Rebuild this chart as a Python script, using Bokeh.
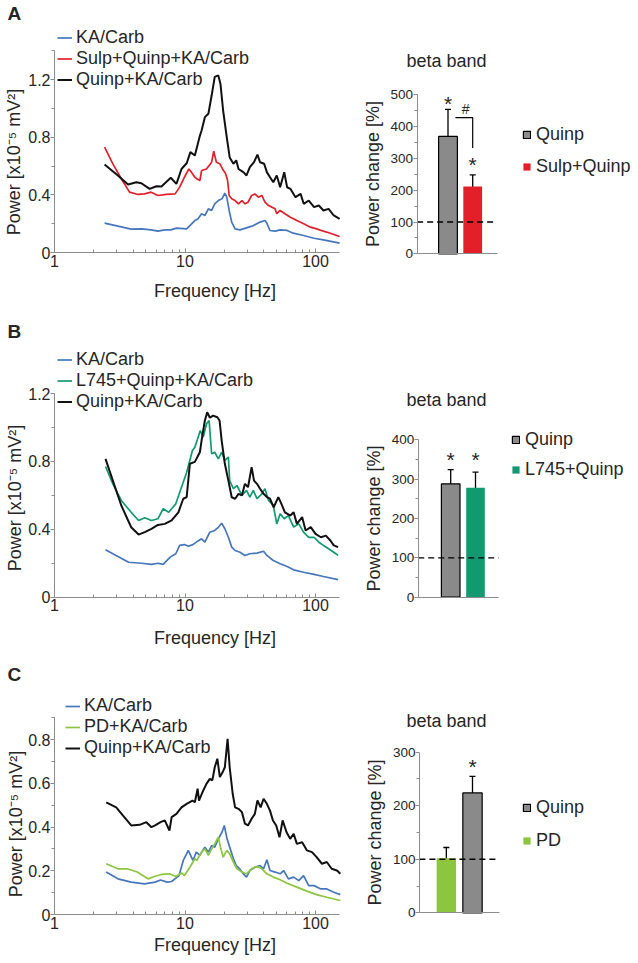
import math
from bokeh.plotting import figure
from bokeh.layouts import column, row
from bokeh.models import (Range1d, FixedTicker, NumeralTickFormatter, Legend, LegendItem,
                          Label, Whisker, TeeHead, ColumnDataSource)
from bokeh.core.properties import value
from bokeh.embed import file_html
from bokeh.resources import INLINE

# ---------------- data: panel A spectra ----------------
a_ka_f = [2.42, 3.06, 3.87, 4.63, 5.5, 6.2, 7.0, 7.8, 8.6, 10.3, 10.9, 11.9, 12.6, 13.4, 14.2, 15.1, 16.0, 16.9,
          18.0, 19.2, 20.2, 20.9, 21.8, 22.8, 24.2, 26.4, 29.6, 33.4, 37.6, 41.0, 42.4, 44.8, 49.0, 53.6, 60.6,
          67.5, 81, 97.5, 115, 153]
a_ka_p = [0.204, 0.183, 0.162, 0.164, 0.157, 0.148, 0.157, 0.157, 0.169, 0.164, 0.187, 0.222, 0.235, 0.269, 0.257,
          0.303, 0.292, 0.338, 0.361, 0.373, 0.412, 0.384, 0.292, 0.211, 0.164, 0.157, 0.171, 0.187, 0.211, 0.222,
          0.204, 0.153, 0.148, 0.157, 0.153, 0.134, 0.118, 0.099, 0.088, 0.065]
a_sulp_f = [2.42, 2.80, 3.25, 3.76, 4.36, 4.9, 5.5, 6.2, 7.2, 8.4, 9.1, 9.9, 10.7, 11.2, 11.9, 12.3, 13.0, 13.4,
            14.6, 16.0, 16.6, 17.4, 18.5, 19.4, 20.5, 21.2, 21.8, 22.8, 24.2, 25.7, 27.3, 28.8, 30.4, 32.4, 34.3,
            36.5, 38.8, 41.0, 43.7, 46.3, 49.0, 50.5, 53.6, 58.3, 64.2, 71.9, 81.2, 91.4, 102, 115, 130, 153]
a_sulp_p = [0.731, 0.616, 0.512, 0.419, 0.403, 0.407, 0.419, 0.396, 0.403, 0.407, 0.454, 0.523, 0.58, 0.558, 0.523,
            0.512, 0.50, 0.569, 0.58, 0.627, 0.703, 0.627, 0.616, 0.58, 0.546, 0.50, 0.396, 0.373, 0.361, 0.338,
            0.361, 0.338, 0.349, 0.396, 0.407, 0.384, 0.396, 0.349, 0.326, 0.315, 0.303, 0.269, 0.292, 0.269, 0.245,
            0.222, 0.199, 0.176, 0.164, 0.148, 0.134, 0.111]
a_quinp_f = [2.42, 3.06, 3.66, 4.24, 4.63, 5.36, 6.04, 6.6, 7.78, 8.6, 9.4, 10.3, 11.0, 11.9, 13.0, 13.4, 14.2, 15.1,
             16.0, 16.9, 18.0, 18.7, 19.6, 20.9, 22.0, 23.5, 24.7, 25.7, 28.0, 29.6, 31.4, 33.8, 35.9, 37.6, 40.4,
             42.4, 44.8, 47.5, 50.5, 53.6, 57.6, 60.6, 64.2, 70.2, 76.9, 81.2, 88.8, 97.5, 106, 115, 126, 138, 153]
a_quinp_p = [0.611, 0.535, 0.472, 0.488, 0.481, 0.442, 0.46, 0.458, 0.519, 0.477, 0.58, 0.62, 0.697, 0.674, 0.81,
             0.847, 0.94, 0.963, 1.09, 1.22, 1.23, 1.17, 0.986, 0.80, 0.66, 0.616, 0.64, 0.58, 0.558, 0.535, 0.593,
             0.627, 0.68, 0.627, 0.616, 0.558, 0.523, 0.488, 0.535, 0.453, 0.558, 0.453, 0.442, 0.384, 0.407, 0.338,
             0.361, 0.315, 0.326, 0.292, 0.303, 0.257, 0.234]

# ---------------- data: panel B spectra ----------------
b_ka_f = [2.46, 3.06, 3.7, 4.63, 5.53, 6.2, 6.8, 7.7, 8.5, 9.1, 9.9, 10.6, 11.5, 12.5, 13.4, 14.2, 15.5, 16.9, 18,
          19.1, 20.2, 21.5, 22.8, 24.2, 26.4, 28.8, 31.4, 35.6, 40, 42.4, 47.5, 53.6, 60.6, 68, 81, 97.5, 115, 149]
b_ka_p = [0.279, 0.24, 0.206, 0.2, 0.193, 0.2, 0.193, 0.236, 0.256, 0.305, 0.31, 0.3, 0.31, 0.33, 0.344, 0.324,
          0.383, 0.393, 0.412, 0.436, 0.403, 0.353, 0.295, 0.275, 0.265, 0.246, 0.256, 0.26, 0.271, 0.246, 0.216,
          0.197, 0.181, 0.161, 0.147, 0.134, 0.122, 0.104]
b_l745_f = [2.46, 2.80, 3.25, 3.87, 4.41, 4.92, 5.53, 6.2, 6.8, 7.5, 8.5, 9.4, 10.3, 11.4, 11.9, 12.5, 13.1, 13.8,
            14.6, 15.3, 16.0, 16.9, 18.0, 19.1, 20.2, 21.5, 22.0, 23.5, 25, 27.3, 29.6, 31.4, 33.4, 35.6, 38.8, 41,
            43.7, 47.5, 50.5, 53.6, 57.6, 62, 68, 74.5, 81, 88.8, 97.5, 106, 115, 126, 138, 149]
b_l745_p = [0.77, 0.668, 0.57, 0.5, 0.452, 0.468, 0.452, 0.462, 0.521, 0.5, 0.55, 0.648, 0.736, 0.864, 0.884, 0.933,
            0.982, 0.943, 1.02, 1.041, 0.845, 0.854, 0.815, 0.854, 0.806, 0.825, 0.687, 0.639, 0.658, 0.6, 0.629,
            0.59, 0.629, 0.58, 0.609, 0.639, 0.57, 0.541, 0.432, 0.491, 0.462, 0.481, 0.413, 0.432, 0.383, 0.353,
            0.353, 0.324, 0.305, 0.285, 0.265, 0.246]
b_quinp_f = [2.46, 2.80, 3.25, 3.87, 4.41, 4.92, 5.53, 6.2, 7.0, 7.9, 8.9, 9.7, 10.3, 10.9, 11.9, 13.0, 13.4, 14.2,
             14.8, 15.5, 16.4, 17.7, 18.4, 19.1, 20.2, 21.5, 22.8, 24.2, 25.7, 27.3, 28.8, 30.4, 32.4, 33.8, 35.6,
             37.6, 40, 42.4, 44.8, 47.8, 51.9, 54.8, 58.3, 64.2, 68, 72, 79, 84, 92, 100, 110, 120, 130, 138, 149]
b_quinp_p = [0.815, 0.687, 0.54, 0.412, 0.369, 0.383, 0.403, 0.426, 0.432, 0.452, 0.5, 0.58, 0.59, 0.786, 0.797,
             0.854, 0.923, 1.041, 1.09, 1.057, 1.07, 1.06, 1.041, 0.923, 0.786, 0.687, 0.589, 0.58, 0.609, 0.6, 0.668,
             0.648, 0.766, 0.687, 0.668, 0.639, 0.609, 0.59, 0.58, 0.53, 0.59, 0.55, 0.5, 0.481, 0.5, 0.432, 0.472,
             0.393, 0.413, 0.373, 0.353, 0.363, 0.334, 0.305, 0.295]

# ---------------- data: panel C spectra ----------------
c_ka_f = [2.49, 3.06, 3.87, 4.9, 5.9, 6.5, 7.3, 7.9, 9.0, 9.7, 10.6, 11.5, 12.2, 13.0, 13.4, 14.2, 15.1, 16, 16.9,
          18, 19.2, 20, 21, 22, 23.5, 24.7, 26.2, 28, 29.6, 31.4, 34.3, 37.6, 40, 42.4, 44.8, 49, 53.6, 57, 62, 68,
          74.5, 81, 88.8, 97.5, 110, 122, 138, 155]
c_ka_p = [0.194, 0.163, 0.148, 0.14, 0.148, 0.158, 0.148, 0.151, 0.178, 0.247, 0.293, 0.247, 0.285, 0.27, 0.285,
          0.308, 0.285, 0.315, 0.308, 0.346, 0.376, 0.407, 0.346, 0.308, 0.255, 0.224, 0.209, 0.186, 0.171, 0.201,
          0.216, 0.224, 0.209, 0.25, 0.201, 0.194, 0.186, 0.201, 0.163, 0.171, 0.155, 0.178, 0.132, 0.132, 0.117,
          0.117, 0.102, 0.091]
c_pd_f = [2.49, 3.06, 3.6, 4.3, 5.2, 5.9, 6.6, 7.6, 8.5, 9.4, 9.9, 10.9, 11.9, 12.3, 13.4, 14.2, 15.1, 16, 16.9, 18,
          18.7, 19.6, 20.9, 22, 23.5, 25, 27.3, 29.6, 32.4, 35.6, 38.8, 42.4, 47.5, 53.6, 60.6, 72, 86, 102, 122, 155]
c_pd_p = [0.232, 0.209, 0.209, 0.194, 0.163, 0.175, 0.183, 0.186, 0.174, 0.19, 0.178, 0.216, 0.255, 0.247, 0.285,
          0.3, 0.27, 0.3, 0.323, 0.353, 0.308, 0.262, 0.293, 0.277, 0.239, 0.209, 0.194, 0.186, 0.209, 0.219, 0.209,
          0.186, 0.171, 0.159, 0.143, 0.125, 0.107, 0.091, 0.079, 0.064]
c_quinp_f = [2.49, 2.97, 3.34, 3.87, 4.49, 5.06, 5.53, 5.9, 6.5, 7.0, 7.6, 7.9, 8.6, 9.4, 10.3, 11.4, 11.9, 12.5,
             12.8, 13.8, 14.6, 15.5, 16.2, 16.9, 17.7, 18.5, 19.4, 20.2, 21.2, 22.0, 23.2, 24.2, 25.7, 27.3, 28.8,
             30.4, 32.4, 34.3, 35.9, 38, 40, 42.4, 44.8, 47.2, 50, 53, 56, 60, 64, 68, 72, 79, 86, 94, 102, 112, 122,
             133, 146, 155]
c_quinp_p = [0.513, 0.49, 0.453, 0.407, 0.41, 0.422, 0.399, 0.407, 0.422, 0.43, 0.384, 0.445, 0.46, 0.49, 0.506,
             0.521, 0.513, 0.575, 0.521, 0.567, 0.597, 0.62, 0.613, 0.673, 0.712, 0.628, 0.65, 0.673, 0.803, 0.673,
             0.552, 0.49, 0.483, 0.468, 0.415, 0.407, 0.438, 0.46, 0.521, 0.49, 0.529, 0.506, 0.475, 0.43, 0.407,
             0.353, 0.43, 0.376, 0.346, 0.369, 0.323, 0.33, 0.293, 0.285, 0.262, 0.232, 0.24, 0.209, 0.201, 0.186]

# ---------------- data: beta band bar charts ----------------
a_bar_names = ["Quinp", "Sulp+Quinp"]
a_bar_mean = [369, 212]
a_bar_lo = [282, 172]
a_bar_hi = [454, 248]
a_star_y = [484, 293]
a_bracket_x = [1.3, 2.0, 2.0]
a_bracket_y = [428, 428, 333]
a_hash_xy = (1.71, 454)

b_bar_names = ["Quinp", "L745+Quinp"]
b_bar_mean = [288, 278]
b_bar_lo = [250, 236]
b_bar_hi = [324, 318]
b_star_y = [360, 360]

c_bar_names = ["PD", "Quinp"]
c_bar_mean = [102, 224]
c_bar_lo = [77, 192]
c_bar_hi = [122, 255]
c_star_y = [None, 281]

baseline_pct = 100
x_major = [1, 10, 100]
x_minor = [2, 3, 4, 5, 6, 7, 8, 9, 20, 30, 40, 50, 60, 70, 80, 90]

# ---------------- style ----------------
FONT = "Liberation Sans"
INK = "#262626"
AX = "#8c8c8c"
BLUE = "#4677bd"
RED = "#e3202a"
BLACK = "#111111"
TEAL = "#12996f"
LIME = "#8cc63f"
GRAY = "#8a8a8a"

LW, RW = 345, 293          # column widths
HA, HB, HC = 305, 345, 313  # row heights
TXT_SHIFT = 7              # compensation for the renderer's alphabetic baseline


def log_range(W, px_at_1, px_per_decade):
    return Range1d(10 ** (-px_at_1 / px_per_decade), 10 ** ((W - px_at_1) / px_per_decade))


def lin_x(W, px_at_1, px_per_unit):
    start = 1 - px_at_1 / px_per_unit
    return Range1d(start, start + W / px_per_unit)


def lin_y(H, py_at_0, px_per_unit):
    end = py_at_0 / px_per_unit
    return Range1d(end - H / px_per_unit, end)


def style(p):
    p.outline_line_color = None
    p.grid.visible = False
    p.border_fill_color = "white"
    p.background_fill_color = "white"
    for ax in p.axis:
        ax.axis_line_color = AX
        ax.major_tick_line_color = AX
        ax.minor_tick_line_color = AX
        ax.major_label_text_font = FONT
        ax.major_label_text_color = INK
        ax.axis_label_text_font = FONT
        ax.axis_label_text_font_style = "normal"
        ax.axis_label_text_color = INK


def lab(p, x, y, text, size="18px", angle=0.0, align="left", baseline="alphabetic", bold=False):
    if baseline == "alphabetic":
        y = y + TXT_SHIFT
    p.add_layout(Label(x=x, y=y, x_units="screen", y_units="screen", text=text, angle=angle,
                       text_font=FONT, text_font_size=size, text_color=INK, text_align=align,
                       text_baseline=baseline, text_font_style="bold" if bold else "normal"))


def spectrum(H, py0, ppu, y_top, y_major, y_minor, curves, leg_xy, leg_row, letter, letter_y, xlab_y,
             ylab_xy):
    p = figure(width=LW, height=H, x_axis_type="log", x_range=log_range(LW, 54, 130.5),
               y_range=lin_y(H, py0, ppu), output_backend="svg", toolbar_location=None,
               min_border_left=0, min_border_right=0, min_border_top=0, min_border_bottom=0)
    style(p)
    items = []
    for name, f, pw, color, lw in curves:
        r = p.line(f, pw, line_color=color, line_width=lw)
        items.append(LegendItem(label=name, renderers=[r]))
    xa = p.xaxis[0]
    xa.fixed_location = 0
    xa.bounds = (1, 154)
    xa.ticker = FixedTicker(ticks=x_major, minor_ticks=x_minor)
    xa.formatter = NumeralTickFormatter(format="0")
    xa.major_tick_in, xa.major_tick_out = 4, 0
    xa.minor_tick_in, xa.minor_tick_out = 3, 0
    xa.major_label_standoff = 2
    xa.major_label_text_font_size = "16px"
    ya = p.yaxis[0]
    ya.fixed_location = 1
    ya.bounds = (0, y_top)
    ya.ticker = FixedTicker(ticks=y_major, minor_ticks=y_minor)
    ya.formatter = NumeralTickFormatter(format="0.[0]")
    ya.major_tick_in, ya.major_tick_out = 0, 4
    ya.minor_tick_in, ya.minor_tick_out = 0, 3
    ya.major_label_standoff = 0
    ya.major_label_text_font_size = "16px"
    leg = Legend(items=items, location=leg_xy, orientation="vertical", padding=0, margin=0, spacing=0,
                 glyph_width=15, glyph_height=leg_row, label_height=leg_row, label_standoff=4,
                 border_line_color=None, background_fill_alpha=0,
                 label_text_font=FONT, label_text_font_size="18px", label_text_color=INK)
    p.add_layout(leg)
    lab(p, 7, letter_y, letter, size="19px", bold=True)
    lab(p, 214.5, xlab_y, "Frequency [Hz]", align="center")
    lab(p, ylab_xy[0], ylab_xy[1], "Power  [x10\u207b\u2075 mV\u00b2]", angle=math.pi / 2, align="center",
        baseline="middle")
    return p


def bars(H, px1, ppx, py0, ppy, x_bounds, y_top, bar_w, names, mean, lo, hi, colors, edges, leg_order,
         leg_xy, spacing, title_xy, star_y):
    p = figure(width=RW, height=H, x_range=lin_x(RW, px1, ppx), y_range=lin_y(H, py0, ppy),
               output_backend="svg", toolbar_location=None,
               min_border_left=0, min_border_right=0, min_border_top=0, min_border_bottom=0)
    style(p)
    pos = list(range(1, len(names) + 1))
    src = ColumnDataSource(dict(x=pos, top=mean, lo=lo, hi=hi, fill=colors, edge=edges))
    r = p.vbar(x="x", top="top", width=bar_w, fill_color="fill", line_color="edge", line_width=1.2, source=src)
    p.segment(x0=[x_bounds[0]], x1=[x_bounds[1]], y0=[baseline_pct], y1=[baseline_pct], line_color="black",
              line_dash="6 4", line_width=1.3)
    p.add_layout(Whisker(base="x", upper="hi", lower="lo", source=src, line_color="black", line_width=1.3,
                         upper_head=TeeHead(size=6, line_color="black", line_width=1.3),
                         lower_head=TeeHead(size=6, line_color="black", line_width=1.3)))
    sx = [x for x, s in zip(pos, star_y) if s is not None]
    sy = [s for s in star_y if s is not None]
    p.text(x=sx, y=sy, text=["*"] * len(sx), text_align="center", text_baseline="alphabetic",
           y_offset=11 - TXT_SHIFT, text_font=value(FONT), text_font_size="21px", text_color=INK)
    xa = p.xaxis[0]
    xa.fixed_location = 0
    xa.bounds = x_bounds
    xa.ticker = FixedTicker(ticks=[])
    xa.major_label_standoff = 0
    ya = p.yaxis[0]
    ya.fixed_location = x_bounds[0]
    ya.bounds = (0, y_top)
    ya.ticker = FixedTicker(ticks=list(range(0, y_top + 1, 100)), minor_ticks=list(range(50, y_top, 100)))
    ya.major_tick_in, ya.major_tick_out = 0, 4
    ya.minor_tick_in, ya.minor_tick_out = 0, 3
    ya.major_label_standoff = 0
    ya.major_label_text_font_size = "13.5px"
    ya.axis_label = "Power change [%]"
    ya.axis_label_text_font_size = "18px"
    ya.axis_label_standoff = 5
    items = [LegendItem(label=names[i], renderers=[r], index=i) for i in leg_order]
    p.add_layout(Legend(items=items, location=leg_xy, orientation="vertical", padding=0, margin=0,
                        spacing=spacing, glyph_width=9, glyph_height=9, label_height=20, label_standoff=5,
                        border_line_color=None, background_fill_alpha=0,
                        label_text_font=FONT, label_text_font_size="18px", label_text_color=INK))
    lab(p, title_xy[0], title_xy[1], "beta band", align="center")
    return p


pA = spectrum(HA, 252, 144, 1.4, [0, 0.4, 0.8, 1.2], [0.2, 0.6, 1.0, 1.4],
              [("KA/Carb", a_ka_f, a_ka_p, BLUE, 1.7),
               ("Sulp+Quinp+KA/Carb", a_sulp_f, a_sulp_p, RED, 1.7),
               ("Quinp+KA/Carb", a_quinp_f, a_quinp_p, BLACK, 2.0)],
              (57, 215), 21, "A", 285, 7.3, (13, 146))
pB = spectrum(HB, 291.7, 169.75, 1.2, [0, 0.4, 0.8, 1.2], [0.2, 0.6, 1.0],
              [("KA/Carb", b_ka_f, b_ka_p, BLUE, 1.7),
               ("L745+Quinp+KA/Carb", b_l745_f, b_l745_p, TEAL, 1.7),
               ("Quinp+KA/Carb", b_quinp_f, b_quinp_p, BLACK, 2.0)],
              (57, 238), 21, "B", 312, 6, (14, 155))
pC = spectrum(HC, 264, 218.75, 0.9, [0, 0.2, 0.4, 0.6, 0.8], [0.1, 0.3, 0.5, 0.7, 0.9],
              [("KA/Carb", c_ka_f, c_ka_p, BLUE, 1.7),
               ("PD+KA/Carb", c_pd_f, c_pd_p, LIME, 1.7),
               ("Quinp+KA/Carb", c_quinp_f, c_quinp_p, BLACK, 2.0)],
              (65, 205), 20, "C", 282, 11.3, (15, 142))

bA = bars(HA, 102.5, 24.7, 253.3, 0.318, (-0.25, 2.99), 500, 0.76, a_bar_names, a_bar_mean, a_bar_lo,
          a_bar_hi, [GRAY, RED], ["black", None], [0, 1], (177, 128), 11, (101, 238), a_star_y)
bA.line(a_bracket_x, a_bracket_y, line_color="black", line_width=1.2)
bA.text(x=[a_hash_xy[0]], y=[a_hash_xy[1]], text=["#"], text_align="center", text_baseline="middle",
        text_font=value(FONT), text_font_size="14px", text_color=INK)
bB = bars(HB, 105.2, 24.8, 291.7, 0.3935, (-0.31, 2.93), 400, 0.75, b_bar_names, b_bar_mean, b_bar_lo,
          b_bar_hi, [GRAY, TEAL], ["black", None], [0, 1], (166, 170), 9, (101, 244), b_star_y)
bC = bars(HC, 100.85, 26.15, 262.3, 0.5353, (-0.03, 3.03), 300, 0.74, c_bar_names, c_bar_mean, c_bar_lo,
          c_bar_hi, [LIME, GRAY], [None, "black"], [1, 0], (177, 112), 12, (101, 236), c_star_y)

layout = column(row(pA, bA), row(pB, bB), row(pC, bC))
open("out.html", "w").write(file_html(layout, INLINE))
